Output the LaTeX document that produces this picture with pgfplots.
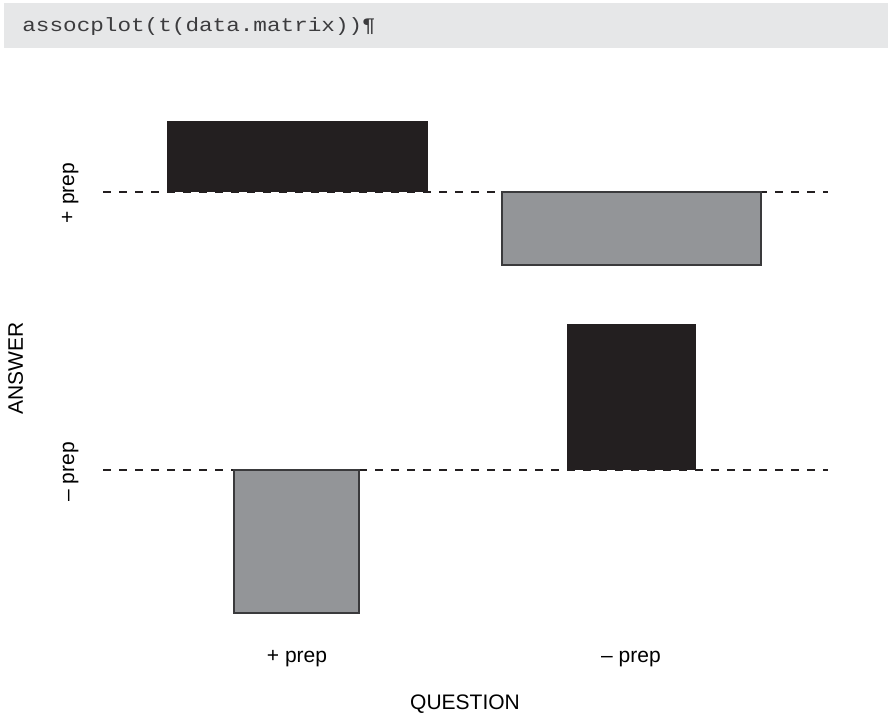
\documentclass[border=0pt]{standalone}
\usepackage{pgfplots}
\pgfplotsset{compat=1.18}
\usepackage{fontspec}
\setmainfont{Liberation Sans}
\newfontfamily\codefont[FakeStretch=1.18]{Liberation Mono}
\definecolor{barblack}{HTML}{231F20}
\definecolor{bargrey}{HTML}{939598}
\definecolor{bargreyline}{HTML}{3A3A3C}
\definecolor{codebg}{HTML}{E6E7E8}
\definecolor{txt}{HTML}{231F20}
\definecolor{codetxt}{HTML}{3C3C3E}
\begin{document}
\begin{tikzpicture}
\begin{axis}[
  width=444.5pt, height=356.5pt, scale only axis,
  xmin=0, xmax=889, ymin=0, ymax=713,
  hide axis, clip=false,
  every node/.style={text=txt},
]
% bounding area
\addplot[draw=none, fill=white] coordinates {(0,0) (889,0) (889,713) (0,713)} -- cycle;
% code box
\addplot[draw=none, fill=codebg] coordinates {(4,665) (888,665) (888,710) (4,710)} -- cycle;
\node[anchor=base west, inner sep=0pt, text=codetxt] at (axis cs:22,681.5)
  {\codefont\fontsize{9.6pt}{11pt}\selectfont assocplot(t(data.matrix))¶};
% baselines (dashed)
\addplot[barblack, line width=0.65pt, dash pattern=on 4pt off 4pt] coordinates {(103,521) (828,521)};
\addplot[barblack, line width=0.65pt, dash pattern=on 4pt off 4pt] coordinates {(103,243) (828,243)};
% row "+ prep": column "+ prep" positive, column "- prep" negative
\addplot[draw=barblack, fill=barblack, line width=0.5pt] coordinates {(167,521) (427,521) (427,591) (167,591)} -- cycle;
\addplot[draw=bargreyline, fill=bargrey, line width=0.6pt] coordinates {(502,521) (761,521) (761,448) (502,448)} -- cycle;
% row "- prep"
\addplot[draw=bargreyline, fill=bargrey, line width=0.6pt] coordinates {(234,243) (359,243) (359,100) (234,100)} -- cycle;
\addplot[draw=barblack, fill=barblack, line width=0.5pt] coordinates {(567,243) (695,243) (695,388) (567,388)} -- cycle;
% labels
\node[anchor=base, inner sep=0pt, font=\fontsize{10.5pt}{12pt}\selectfont] at (axis cs:297,50) {+ prep};
\node[anchor=base, inner sep=0pt, font=\fontsize{10.5pt}{12pt}\selectfont] at (axis cs:631,50) {– prep};
\node[anchor=base, inner sep=0pt, font=\fontsize{10.5pt}{12pt}\selectfont] at (axis cs:465,3) {QUESTION};
\node[anchor=base, rotate=90, inner sep=0pt, font=\fontsize{10.5pt}{12pt}\selectfont] at (axis cs:74,520) {+ prep};
\node[anchor=base, rotate=90, inner sep=0pt, font=\fontsize{10.5pt}{12pt}\selectfont] at (axis cs:74,241) {– prep};
\node[anchor=base, rotate=90, inner sep=0pt, font=\fontsize{10.5pt}{12pt}\selectfont] at (axis cs:23,344.5) {ANSWER};
\end{axis}
\end{tikzpicture}
\end{document}
